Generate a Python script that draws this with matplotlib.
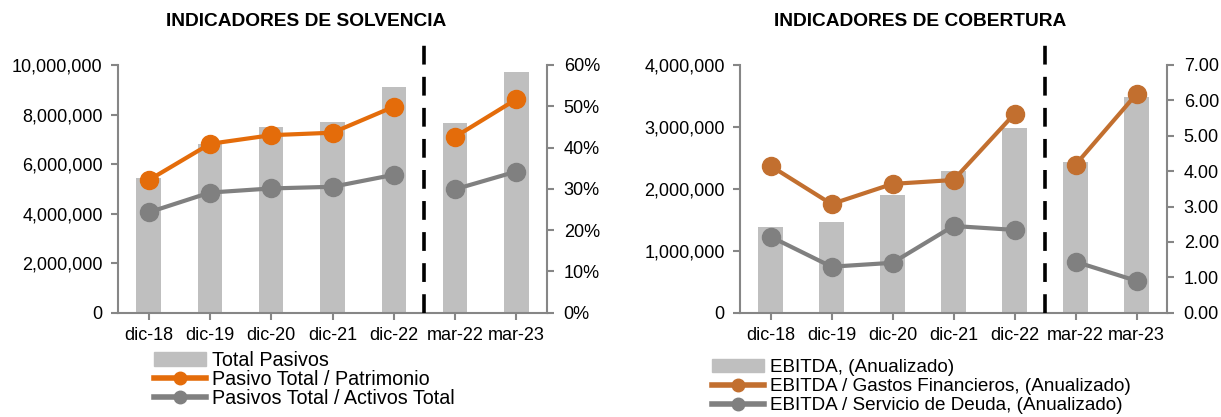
import matplotlib
matplotlib.use("Agg")
import matplotlib.pyplot as plt
from matplotlib.lines import Line2D
from matplotlib.patches import Patch
from matplotlib.ticker import FuncFormatter, MultipleLocator

plt.rcParams['font.family'] = ['Liberation Sans', 'DejaVu Sans']

periodos = ["dic-18", "dic-19", "dic-20", "dic-21", "dic-22", "mar-22", "mar-23"]

# solvencia
total_pasivos = [5450000, 6810000, 7480000, 7690000, 9100000, 7660000, 9710000]
pasivo_patrimonio = [32.1, 40.9, 43.0, 43.6, 49.9, 42.6, 51.7]
pasivo_activos = [24.3, 29.1, 30.1, 30.5, 33.4, 29.9, 34.2]

# cobertura
ebitda = [1380000, 1470000, 1900000, 2290000, 2990000, 2430000, 3490000]
ebitda_gastos_fin = [4.15, 3.07, 3.64, 3.75, 5.62, 4.18, 6.18]
ebitda_servicio_deuda = [2.15, 1.30, 1.41, 2.45, 2.34, 1.44, 0.90]

BAR = "#BFBFBF"
GRAY = "#808080"
SPINE = "#868686"
ORANGE1 = "#E46C0A"
ORANGE2 = "#C26F2F"
FS = 13


def style_axes(ax, twin):
    for a in (ax, twin):
        for s in a.spines.values():
            s.set_visible(False)
    ax.spines['left'].set_visible(True)
    ax.spines['bottom'].set_visible(True)
    twin.spines['right'].set_visible(True)
    for s in (ax.spines['left'], ax.spines['bottom'], twin.spines['right']):
        s.set_color(SPINE)
        s.set_linewidth(1.5)
    ax.tick_params(axis='y', direction='out', length=5, width=1.5, color=SPINE,
                   labelsize=FS, pad=6)
    ax.tick_params(axis='x', direction='out', length=5, width=1.5, color=SPINE,
                   labelsize=FS, pad=5)
    twin.tick_params(axis='y', direction='out', length=5, width=1.5, color=SPINE,
                     labelsize=FS, pad=7)


def panel(fig, rect, bars, l1, l2, c1, ylim, ystep, y2lim, y2step, y2fmt):
    ax = fig.add_axes(rect)
    twin = ax.twinx()
    x = list(range(len(periodos)))
    ax.bar(x, bars, width=0.4, color=BAR, zorder=1)
    # dic values and mar values plotted as separate segments
    twin.plot(x[:5], l1[:5], color=c1, lw=3, marker='o', ms=13, solid_capstyle='round')
    twin.plot(x[5:], l1[5:], color=c1, lw=3, marker='o', ms=13, solid_capstyle='round')
    twin.plot(x[:5], l2[:5], color=GRAY, lw=3, marker='o', ms=13, solid_capstyle='round')
    twin.plot(x[5:], l2[5:], color=GRAY, lw=3, marker='o', ms=13, solid_capstyle='round')
    ax.set_xlim(-0.5, len(periodos) - 0.5)
    ax.set_xticks(x)
    ax.set_xticklabels(periodos)
    ax.set_ylim(*ylim)
    ax.yaxis.set_major_locator(MultipleLocator(ystep))
    ax.yaxis.set_major_formatter(FuncFormatter(lambda v, p: f"{v:,.0f}"))
    twin.set_ylim(*y2lim)
    twin.yaxis.set_major_locator(MultipleLocator(y2step))
    twin.yaxis.set_major_formatter(FuncFormatter(y2fmt))
    twin.axvline(4.5, ymin=0, ymax=1.094, color='black', lw=2.6,
                 dashes=(5.2, 3.4), clip_on=False)
    style_axes(ax, twin)
    return ax, twin


fig = plt.figure(figsize=(12.21, 4.17), dpi=100)
W, H = 1221.0, 417.0

panel(fig, [118 / W, 104.3 / H, 429 / W, 247.7 / H], total_pasivos,
      pasivo_patrimonio, pasivo_activos, ORANGE1, (0, 10000000), 2000000,
      (0, 60), 10, lambda v, p: f"{v:.0f}%")
panel(fig, [740 / W, 104.3 / H, 427 / W, 247.7 / H], ebitda,
      ebitda_gastos_fin, ebitda_servicio_deuda, ORANGE2, (0, 4000000), 1000000,
      (0, 7), 1, lambda v, p: f"{v:.2f}")

fig.text(306 / W, 1 - 22 / H, "INDICADORES DE SOLVENCIA", ha='center', va='center',
         fontsize=13.8, fontweight='bold')
fig.text(920 / W, 1 - 22 / H, "INDICADORES DE COBERTURA", ha='center', va='center',
         fontsize=13.8, fontweight='bold')

h1 = [Patch(color=BAR),
      Line2D([], [], color=ORANGE1, lw=4, marker='o', ms=9),
      Line2D([], [], color=GRAY, lw=4, marker='o', ms=9)]
fig.legend(h1, ["Total Pasivos", "Pasivo Total / Patrimonio",
                "Pasivos Total / Activos Total"],
           loc='upper left', bbox_to_anchor=(154 / W, 1 - 351 / H), frameon=False,
           fontsize=14.2, handlelength=2.65, handletextpad=0.3, labelspacing=0.0,
           borderpad=0, borderaxespad=0)

h2 = [Patch(color=BAR),
      Line2D([], [], color=ORANGE2, lw=4, marker='o', ms=9),
      Line2D([], [], color=GRAY, lw=4, marker='o', ms=9)]
fig.legend(h2, ["EBITDA, (Anualizado)", "EBITDA / Gastos Financieros, (Anualizado)",
                "EBITDA / Servicio de Deuda, (Anualizado)"],
           loc='upper left', bbox_to_anchor=(712 / W, 1 - 359 / H), frameon=False,
           fontsize=13.6, handlelength=2.75, handletextpad=0.3, labelspacing=0.1,
           borderpad=0, borderaxespad=0)

fig.savefig("out.png", dpi=100)
